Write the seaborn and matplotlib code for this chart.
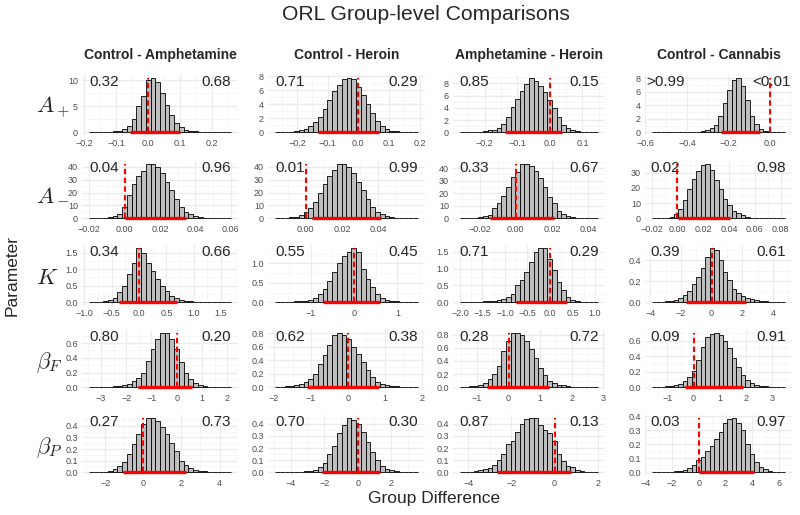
import numpy as np
import pandas as pd
import seaborn as sns
import matplotlib.pyplot as plt
from matplotlib.ticker import FixedLocator, FixedFormatter

sns.set_style("whitegrid", {"grid.color": "#EBEBEB", "axes.edgecolor": "white"})
plt.rcParams["font.family"] = ["Liberation Sans", "DejaVu Sans"]
plt.rcParams["mathtext.fontset"] = "cm"

comparisons = ["Control - Amphetamine", "Control - Heroin",
               "Amphetamine - Heroin", "Control - Cannabis"]
param_labels = [r"$A_+$", r"$A_-$", r"$K$", r"$\beta_F$", r"$\beta_P$"]

# first and last bin edge of each histogram (rows = parameters, cols = comparisons)
hist_lo = [[-0.184, -0.271, -0.276, -0.57],
           [-0.02, -0.0169, -0.0309, -0.02],
           [-0.915, -1.82, -2.0, -3.9],
           [-3.47, -1.97, -1.54, -1.6],
           [-2.86, -4.95, -4.39, -3.52]]
hist_hi = [[0.26, 0.194, 0.148, 0.075],
           [0.06, 0.0619, 0.0455, 0.0837],
           [1.68, 1.47, 1.07, 4.8],
           [2.15, 1.89, 2.83, 3.5],
           [4.6, 3.6, 2.02, 6.48]]

# posterior density of the 30 bins
dens_Ap = [
    [0.01, 0.01, 0.03, 0.05, 0.08, 0.15, 0.3, 0.6, 1.3, 2.6, 5.1, 7.0, 10.0, 10.5, 9.6,
     7.5, 5.3, 3.3, 1.8, 1.0, 0.5, 0.3, 0.2, 0.1, 0.06, 0.04, 0.03, 0.02, 0.01, 0.01],
    [0.01, 0.02, 0.05, 0.1, 0.2, 0.3, 0.5, 0.9, 1.5, 2.2, 3.3, 4.6, 5.9, 6.7, 7.6,
     7.8, 7.6, 6.5, 5.3, 4.0, 2.8, 1.6, 0.9, 0.45, 0.25, 0.12, 0.06, 0.03, 0.02, 0.01],
    [0.01, 0.02, 0.04, 0.06, 0.12, 0.2, 0.3, 0.4, 0.7, 1.3, 2.5, 4.2, 5.5, 6.8, 7.8,
     8.9, 8.3, 7.6, 6.5, 5.2, 4.0, 2.5, 1.2, 0.7, 0.4, 0.2, 0.1, 0.05, 0.02, 0.01],
    [0.005, 0.005, 0.008, 0.01, 0.015, 0.02, 0.03, 0.04, 0.05, 0.07, 0.1, 0.15, 0.3, 0.6, 1.1,
     2.4, 4.3, 6.3, 7.8, 8.1, 6.9, 4.8, 2.4, 1.2, 0.5, 0.2, 0.1, 0.05, 0.02, 0.01],
]
dens_Am = [
    [0.02, 0.05, 0.1, 0.3, 0.7, 1.5, 3.5, 9, 18, 27, 33, 37, 42, 42.5, 40,
     35, 28, 22, 15, 9, 5, 3, 1.5, 0.7, 0.3, 0.15, 0.08, 0.04, 0.02, 0.01],
    [0.05, 0.1, 0.3, 0.7, 1.0, 2.5, 4.5, 8, 13, 20, 27, 33, 38, 42.5, 42.5,
     40, 35, 28, 22, 15, 9, 5, 3, 1.5, 0.7, 0.3, 0.15, 0.07, 0.03, 0.01],
    [0.02, 0.05, 0.1, 0.3, 0.7, 1.5, 3, 8, 12, 18, 25, 33, 37, 43.5, 43,
     42, 38, 32, 25, 17, 12, 6, 3.5, 1.5, 0.7, 0.4, 0.2, 0.1, 0.05, 0.02],
    [0.02, 0.05, 0.15, 0.4, 1, 2.5, 6, 12, 19, 26, 31, 35, 36, 32, 25.5,
     19, 13, 8.5, 5, 3.5, 2, 1, 0.5, 0.3, 0.15, 0.08, 0.04, 0.02, 0.01, 0.01],
]
dens_K = [
    [0.005, 0.01, 0.02, 0.03, 0.06, 0.12, 0.3, 0.5, 0.85, 1.2, 1.65, 1.5, 1.2, 0.95, 0.7,
     0.5, 0.33, 0.2, 0.13, 0.08, 0.05, 0.03, 0.02, 0.015, 0.01, 0.008, 0.006, 0.005, 0.004, 0.003],
    [0.005, 0.008, 0.01, 0.015, 0.02, 0.03, 0.04, 0.07, 0.1, 0.2, 0.35, 0.55, 0.78, 1.0, 1.2,
     1.3, 1.4, 1.28, 0.85, 0.6, 0.38, 0.2, 0.12, 0.07, 0.04, 0.025, 0.015, 0.01, 0.005, 0.005],
    [0.005, 0.008, 0.01, 0.015, 0.02, 0.025, 0.03, 0.04, 0.06, 0.1, 0.15, 0.25, 0.5, 0.65, 0.9,
     1.2, 1.5, 1.62, 1.6, 1.3, 0.95, 0.6, 0.35, 0.15, 0.08, 0.04, 0.02, 0.01, 0.005, 0.005],
    [0.002, 0.003, 0.005, 0.008, 0.012, 0.025, 0.04, 0.07, 0.11, 0.17, 0.24, 0.33, 0.43, 0.52, 0.5,
     0.4, 0.29, 0.21, 0.13, 0.09, 0.06, 0.04, 0.03, 0.02, 0.014, 0.01, 0.007, 0.005, 0.003, 0.002],
]
dens_bF = [
    [0.002, 0.003, 0.005, 0.007, 0.01, 0.015, 0.02, 0.03, 0.05, 0.08, 0.12, 0.2, 0.35, 0.52, 0.66,
     0.73, 0.74, 0.66, 0.52, 0.34, 0.2, 0.11, 0.06, 0.03, 0.015, 0.01, 0.006, 0.004, 0.003, 0.002],
    [0.005, 0.01, 0.015, 0.02, 0.03, 0.05, 0.08, 0.12, 0.2, 0.35, 0.48, 0.63, 0.77, 0.81, 0.78,
     0.72, 0.6, 0.5, 0.37, 0.25, 0.15, 0.08, 0.05, 0.03, 0.02, 0.012, 0.008, 0.005, 0.003, 0.002],
    [0.005, 0.008, 0.012, 0.02, 0.04, 0.07, 0.12, 0.2, 0.33, 0.55, 0.7, 0.83, 0.82, 0.79, 0.7,
     0.58, 0.44, 0.3, 0.18, 0.1, 0.07, 0.04, 0.03, 0.015, 0.01, 0.006, 0.004, 0.003, 0.002, 0.001],
    [0.003, 0.005, 0.007, 0.01, 0.015, 0.025, 0.045, 0.075, 0.13, 0.21, 0.35, 0.52, 0.64, 0.69, 0.7,
     0.67, 0.6, 0.5, 0.38, 0.26, 0.16, 0.09, 0.055, 0.03, 0.018, 0.01, 0.007, 0.005, 0.003, 0.002],
]
dens_bP = [
    [0.001, 0.002, 0.003, 0.005, 0.01, 0.03, 0.05, 0.085, 0.16, 0.24, 0.33, 0.42, 0.465, 0.47, 0.44,
     0.39, 0.33, 0.25, 0.18, 0.1, 0.06, 0.035, 0.02, 0.01, 0.007, 0.004, 0.003, 0.002, 0.001, 0.001],
    [0.001, 0.002, 0.003, 0.004, 0.005, 0.006, 0.008, 0.012, 0.02, 0.04, 0.08, 0.15, 0.22, 0.32, 0.39,
     0.45, 0.43, 0.4, 0.33, 0.25, 0.17, 0.1, 0.05, 0.03, 0.015, 0.008, 0.005, 0.003, 0.002, 0.001],
    [0.002, 0.004, 0.006, 0.01, 0.02, 0.03, 0.035, 0.06, 0.1, 0.15, 0.23, 0.26, 0.33, 0.4, 0.44,
     0.45, 0.45, 0.39, 0.35, 0.32, 0.26, 0.15, 0.09, 0.05, 0.04, 0.02, 0.01, 0.005, 0.003, 0.002],
    [0.001, 0.002, 0.003, 0.004, 0.005, 0.007, 0.01, 0.015, 0.03, 0.05, 0.09, 0.11, 0.15, 0.19, 0.24,
     0.29, 0.35, 0.38, 0.39, 0.35, 0.3, 0.2, 0.13, 0.07, 0.035, 0.02, 0.01, 0.005, 0.003, 0.002],
]
densities = [dens_Ap, dens_Am, dens_K, dens_bF, dens_bP]

# 95% HDI of each difference
hdi_lo = [[-0.056, -0.132, -0.139, -0.235],
          [0.0, 0.0033, -0.0142, 0.0005],
          [-0.37, -0.71, -0.75, -1.67],
          [-1.55, -1.11, -0.67, -0.31],
          [-1.05, -2.16, -2.65, 0.0]]
hdi_hi = [[0.1, 0.069, 0.038, -0.045],
          [0.0349, 0.0418, 0.0209, 0.0404],
          [0.69, 0.6, 0.38, 2.24],
          [0.61, 0.85, 1.28, 1.9],
          [2.23, 1.31, 0.78, 4.1]]

# posterior mass below / above zero
p_below = [["0.32", "0.71", "0.85", ">0.99"],
           ["0.04", "0.01", "0.33", "0.02"],
           ["0.34", "0.55", "0.71", "0.39"],
           ["0.80", "0.62", "0.28", "0.09"],
           ["0.27", "0.70", "0.87", "0.03"]]
p_above = [["0.68", "0.29", "0.15", "<0.01"],
           ["0.96", "0.99", "0.67", "0.98"],
           ["0.66", "0.45", "0.29", "0.61"],
           ["0.20", "0.38", "0.72", "0.91"],
           ["0.73", "0.30", "0.13", "0.97"]]

xticks = [
    [[-0.2, -0.1, 0.0, 0.1, 0.2], [-0.2, -0.1, 0.0, 0.1, 0.2], [-0.3, -0.2, -0.1, 0.0, 0.1], [-0.6, -0.4, -0.2, 0.0]],
    [[-0.02, 0.0, 0.02, 0.04, 0.06], [0.0, 0.02, 0.04], [-0.02, 0.0, 0.02, 0.04], [-0.02, 0.0, 0.02, 0.04, 0.06, 0.08]],
    [[-1.0, -0.5, 0.0, 0.5, 1.0, 1.5], [-1, 0, 1], [-2.0, -1.5, -1.0, -0.5, 0.0, 0.5, 1.0], [-4, -2, 0, 2, 4]],
    [[-3, -2, -1, 0, 1, 2], [-2, -1, 0, 1, 2], [-1, 0, 1, 2, 3], [-1, 0, 1, 2, 3]],
    [[-2, 0, 2, 4], [-4, -2, 0, 2], [-4, -2, 0, 2], [-4, -2, 0, 2, 4, 6]],
]
yticks = [
    [[0, 5, 10], [0, 2, 4, 6, 8], [0, 2, 4, 6, 8], [0, 2, 4, 6, 8]],
    [[0, 10, 20, 30, 40], [0, 10, 20, 30, 40], [0, 10, 20, 30, 40], [0, 10, 20, 30]],
    [[0.0, 0.5, 1.0, 1.5], [0.0, 0.5, 1.0], [0.0, 0.5, 1.0, 1.5], [0.0, 0.2, 0.4]],
    [[0.0, 0.2, 0.4, 0.6], [0.0, 0.2, 0.4, 0.6, 0.8], [0.0, 0.2, 0.4, 0.6, 0.8], [0.0, 0.2, 0.4, 0.6]],
    [[0.0, 0.1, 0.2, 0.3, 0.4]] * 4,
]


def tick_labels(ticks):
    # same number of decimals for all labels, like ggplot
    d = 0
    while any(abs(round(t, d) - t) > 1e-9 for t in ticks):
        d += 1
    return [f"{t:.{d}f}".replace("-", "\u2212") for t in ticks]


def set_axis(axis, ticks):
    step = ticks[1] - ticks[0]
    minor = [ticks[0] - step / 2] + [t + step / 2 for t in ticks]
    axis.set_major_locator(FixedLocator(ticks))
    axis.set_major_formatter(FixedFormatter(tick_labels(ticks)))
    axis.set_minor_locator(FixedLocator(minor))


W, H = 800, 515
fig = plt.figure(figsize=(8, 5.15), dpi=100)

col_left = [82, 268, 453, 645]
col_width = [156, 157, 152, 147]
row_top = [75, 161, 245, 330, 415]
row_height = 60

for r in range(5):
    for c in range(4):
        ax = fig.add_axes([col_left[c] / W, 1 - (row_top[r] + row_height) / H,
                           col_width[c] / W, row_height / H])
        lo, hi = hist_lo[r][c], hist_hi[r][c]
        dens = densities[r][c]
        nbins = len(dens)
        step = (hi - lo) / nbins
        df = pd.DataFrame({"diff": [lo + step * (i + 0.5) for i in range(nbins)], "dens": dens})
        sns.histplot(data=df, x="diff", weights="dens", bins=nbins, binrange=(lo, hi), ax=ax,
                     color="#BEBEBE", edgecolor="black", linewidth=0.6, alpha=1)
        top = max(dens)
        ax.plot([hdi_lo[r][c], hdi_hi[r][c]], [0, 0], color="red", lw=2.4,
                solid_capstyle="butt", zorder=4)
        ax.plot([0, 0], [0, top], color="red", lw=1.5, dashes=(2.6, 1.6), zorder=5)

        xmin, xmax = min(lo, 0), max(hi, 0)
        pad = 0.05 * (xmax - xmin)
        ax.set_xlim(xmin - pad, xmax + pad)
        ax.set_ylim(-0.05 * top, 1.05 * top)
        set_axis(ax.xaxis, xticks[r][c])
        set_axis(ax.yaxis, yticks[r][c])

        ax.grid(True, which="major", color="#EBEBEB", lw=0.9)
        ax.grid(True, which="minor", color="#F3F3F3", lw=0.5)
        ax.set_axisbelow(True)
        sns.despine(ax=ax, left=True, bottom=True)
        ax.tick_params(which="both", length=0, labelsize=6.5, labelcolor="#4D4D4D", pad=3)
        ax.set_xlabel("")
        ax.set_ylabel("")

        ax.text(0.14, 0.89, p_below[r][c], transform=ax.transAxes,
                ha="center", va="center", fontsize=11, zorder=6)
        ax.text(0.86, 0.89, p_above[r][c], transform=ax.transAxes,
                ha="center", va="center", fontsize=11, zorder=6)

        if r == 0:
            fig.text((col_left[c] + col_width[c] / 2) / W, 1 - 55 / H, comparisons[c],
                     ha="center", va="center", fontsize=10, fontweight="bold")
    fig.text(36 / W, 1 - (row_top[r] + row_height / 2 + 3) / H, param_labels[r],
             ha="left", va="center", fontsize=16.5)

fig.text(426 / W, 1 - 15 / H, "ORL Group-level Comparisons", ha="center", va="center", fontsize=15.2)
fig.text(434 / W, 1 - 498 / H, "Group Difference", ha="center", va="center", fontsize=12.5)
fig.text(12 / W, 1 - 275 / H, "Parameter", ha="center", va="center", rotation=90, fontsize=12.5)

fig.savefig("out.png", dpi=100)
